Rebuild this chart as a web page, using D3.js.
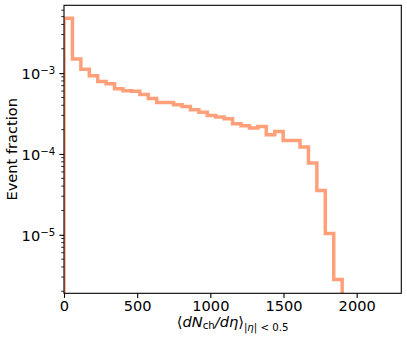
<!DOCTYPE html>
<html>
<head>
<meta charset="utf-8">
<script src="https://cdn.jsdelivr.net/npm/d3@7"></script>
<style>
  body { margin: 0; background: #fff; }
  svg { font-family: "DejaVu Sans", sans-serif; }
</style>
</head>
<body>
<div id="chart"></div>
<script>
// bin edges of the multiplicity histogram (dN/deta)
let binEdges = [0, 57.6, 115.2, 172.8, 230.4, 288, 345.6, 403.2, 460.8, 518.4, 576,
  633.6, 691.2, 748.8, 806.4, 864, 921.6, 979.2, 1036.8, 1094.4, 1152,
  1209.6, 1267.2, 1324.8, 1382.4, 1440, 1497.6, 1555.2, 1612.8, 1670.4, 1728,
  1785.6, 1843.2, 1900.8];

// event fraction in each bin
let fractions = [4.78e-3, 1.50e-3, 1.12e-3, 9.3e-4, 7.9e-4, 7.4e-4, 6.4e-4, 6.05e-4,
  5.95e-4, 5.44e-4, 4.85e-4, 4.33e-4, 4.33e-4, 4.06e-4, 3.87e-4, 3.52e-4,
  3.27e-4, 3.0e-4, 2.86e-4, 2.73e-4, 2.37e-4, 2.24e-4, 2.09e-4, 2.19e-4,
  1.73e-4, 1.9e-4, 1.47e-4, 1.47e-4, 1.22e-4, 7.75e-5, 3.52e-5, 1.04e-5, 2.8e-6];

let xTicks = [0, 500, 1000, 1500, 2000];
let yTicks = [1e-5, 1e-4, 1e-3];
let yTickLabels = ["\u22125", "\u22124", "\u22123"];

let width = 407, height = 339;
let margin = { top: 5.3, right: 5.7, bottom: 45.7, left: 64 };
let innerW = width - margin.left - margin.right;
let innerH = height - margin.top - margin.bottom;
let fs = "14.6px", fsSub = "10.2px";

let svg = d3.select("#chart").append("svg")
  .attr("width", width)
  .attr("height", height);

let g = svg.append("g")
  .attr("transform", "translate(" + margin.left + "," + margin.top + ")");

let x = d3.scaleLinear().domain([0, 2305]).range([0, innerW]);
let y = d3.scaleLog().domain([1.89e-6, 6.9e-3]).range([innerH, 0]);

svg.append("defs").append("clipPath").attr("id", "clip")
  .append("rect").attr("width", innerW).attr("height", innerH);

// step outline of the histogram
let pts = [[x(binEdges[0]), innerH + 10]];
fractions.forEach(function (v, i) {
  pts.push([x(binEdges[i]), y(v)]);
  pts.push([x(binEdges[i + 1]), y(v)]);
});
pts.push([x(binEdges[binEdges.length - 1]), innerH + 10]);

g.append("path")
  .attr("clip-path", "url(#clip)")
  .attr("d", d3.line()(pts))
  .attr("fill", "none")
  .attr("stroke", "#ffa07a")
  .attr("stroke-width", 3.5)
  .attr("stroke-linejoin", "miter");

// x axis
let xAxis = g.append("g")
  .attr("transform", "translate(0," + innerH + ")")
  .call(d3.axisBottom(x).tickValues(xTicks).tickSize(4.6).tickPadding(2.6).tickFormat(d3.format("d")));
xAxis.select(".domain").remove();
xAxis.selectAll("line").attr("stroke", "#000").attr("stroke-width", 1.1);
xAxis.selectAll("text").attr("font-size", fs).attr("fill", "#000")
  .attr("font-family", "DejaVu Sans");

// y minor ticks
let minor = [];
[-6, -5, -4, -3].forEach(function (e) {
  for (let m = 2; m <= 9; m++) {
    let v = m * Math.pow(10, e);
    if (v >= y.domain()[0] && v <= y.domain()[1]) minor.push(v);
  }
});
g.append("g").selectAll("line").data(minor).enter().append("line")
  .attr("x1", -2.8).attr("x2", 0)
  .attr("y1", (d) => y(d)).attr("y2", (d) => y(d))
  .attr("stroke", "#000").attr("stroke-width", 0.8);

// y major ticks
let yAxis = g.append("g")
  .call(d3.axisLeft(y).tickValues(yTicks).tickSize(4.6).tickPadding(4.2).tickFormat(""));
yAxis.select(".domain").remove();
yAxis.selectAll("line").attr("stroke", "#000").attr("stroke-width", 1.1);
yAxis.selectAll(".tick text").each(function (d, i) {
  let t = d3.select(this)
    .attr("font-size", fs).attr("fill", "#000").attr("dy", "0.4em")
    .attr("font-family", "DejaVu Sans");
  t.append("tspan").text("10");
  t.append("tspan").attr("font-size", fsSub).attr("dy", "-0.55em")
    .text(yTickLabels[yTicks.indexOf(d)]);
});

// frame
g.append("rect")
  .attr("width", innerW).attr("height", innerH)
  .attr("fill", "none").attr("stroke", "#000").attr("stroke-width", 1.1);

// axis titles
let xl = svg.append("text")
  .attr("x", margin.left + innerW / 2)
  .attr("y", 326.5)
  .attr("text-anchor", "middle")
  .attr("font-size", fs)
  .attr("fill", "#000");
xl.append("tspan").text("\u27e8");
xl.append("tspan").attr("font-style", "italic").text("dN");
xl.append("tspan").attr("font-size", fsSub).attr("dy", 2.5).text("ch");
xl.append("tspan").attr("font-style", "italic").attr("dy", -2.5).text("/d\u03b7");
xl.append("tspan").text("\u27e9");
xl.append("tspan").attr("font-size", fsSub).attr("dy", 4).text("|");
xl.append("tspan").attr("font-size", fsSub).attr("font-style", "italic").text("\u03b7");
xl.append("tspan").attr("font-size", fsSub).text("| < 0.5");

svg.append("text")
  .attr("transform", "translate(17," + (margin.top + innerH / 2) + ") rotate(-90)")
  .attr("text-anchor", "middle")
  .attr("font-size", fs)
  .attr("fill", "#000")
  .text("Event fraction");
</script>
</body>
</html>
